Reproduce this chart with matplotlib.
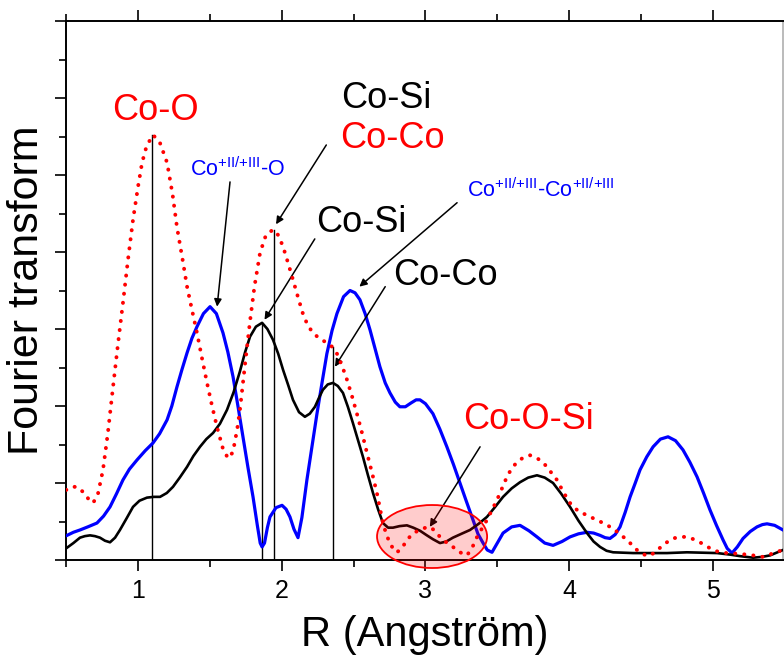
import matplotlib
matplotlib.use('Agg')
import matplotlib.pyplot as plt
from matplotlib.patches import Ellipse
from matplotlib.ticker import MultipleLocator, NullFormatter

plt.rcParams['font.family'] = ['Liberation Sans', 'DejaVu Sans']
plt.rcParams['mathtext.default'] = 'regular'

# red dotted curve
r_red = [0.50, 0.54, 0.575, 0.62, 0.66, 0.687, 0.72, 0.756, 0.79, 0.826, 0.86, 0.895,
         0.93, 0.965, 1.00, 1.028, 1.06, 1.104, 1.15, 1.202, 1.24, 1.271, 1.31, 1.341,
         1.375, 1.410, 1.445, 1.480, 1.515, 1.549, 1.59, 1.626, 1.66, 1.69, 1.709, 1.745,
         1.779, 1.81, 1.849, 1.89, 1.939, 1.975, 2.009, 2.045, 2.078, 2.115, 2.147, 2.18,
         2.217, 2.26, 2.314, 2.35, 2.384, 2.42, 2.454, 2.49, 2.523, 2.56, 2.593, 2.63,
         2.662, 2.704, 2.73, 2.753, 2.78, 2.801, 2.835, 2.871, 2.915, 2.962, 3.00, 3.031,
         3.065, 3.101, 3.145, 3.191, 3.24, 3.289, 3.325, 3.359, 3.428, 3.498, 3.567, 3.60,
         3.637, 3.68, 3.728, 3.77, 3.818, 3.865, 3.915, 3.96, 4.006, 4.06, 4.124, 4.215,
         4.305, 4.35, 4.403, 4.44, 4.472, 4.51, 4.549, 4.59, 4.633, 4.68, 4.723, 4.77,
         4.820, 4.865, 4.910, 4.955, 5.001, 5.05, 5.098, 5.189, 5.280, 5.349, 5.385, 5.419,
         5.488]
y_red = [0.91, 0.95, 0.95, 0.88, 0.78, 0.74, 0.85, 1.17, 1.65, 2.25, 2.80, 3.34,
         3.90, 4.42, 4.85, 5.16, 5.38, 5.52, 5.43, 5.16, 4.75, 4.32, 3.90, 3.55,
         3.25, 2.95, 2.62, 2.30, 2.00, 1.73, 1.45, 1.32, 1.40, 1.70, 1.95, 2.55,
         3.10, 3.55, 3.99, 4.22, 4.29, 4.22, 4.07, 3.85, 3.64, 3.40, 3.20, 3.05,
         2.95, 2.88, 2.82, 2.77, 2.68, 2.52, 2.34, 2.12, 1.90, 1.64, 1.39, 1.12,
         0.87, 0.48, 0.32, 0.22, 0.13, 0.10, 0.15, 0.26, 0.35, 0.39, 0.42, 0.43,
         0.38, 0.30, 0.23, 0.17, 0.10, 0.06, 0.16, 0.30, 0.52, 0.78, 1.08, 1.19,
         1.27, 1.33, 1.36, 1.33, 1.27, 1.16, 1.04, 0.88, 0.74, 0.64, 0.58, 0.50,
         0.41, 0.34, 0.26, 0.19, 0.13, 0.08, 0.05, 0.09, 0.16, 0.23, 0.28, 0.30,
         0.30, 0.27, 0.23, 0.18, 0.13, 0.10, 0.09, 0.08, 0.06, 0.04, 0.06, 0.09,
         0.13]

# blue curve
r_blue = [0.506, 0.55, 0.596, 0.65, 0.714, 0.76, 0.805, 0.85, 0.895, 0.94, 0.993, 1.05,
          1.104, 1.15, 1.202, 1.235, 1.271, 1.305, 1.341, 1.375, 1.410, 1.455, 1.501, 1.545,
          1.591, 1.625, 1.661, 1.695, 1.730, 1.765, 1.800, 1.83, 1.85, 1.863, 1.88, 1.90,
          1.918, 1.96, 2.002, 2.03, 2.057, 2.085, 2.113, 2.14, 2.175, 2.21, 2.245, 2.28,
          2.314, 2.35, 2.384, 2.43, 2.475, 2.51, 2.544, 2.58, 2.614, 2.65, 2.683, 2.72,
          2.753, 2.79, 2.822, 2.86, 2.90, 2.935, 2.962, 3.00, 3.052, 3.10, 3.149, 3.195,
          3.240, 3.285, 3.331, 3.365, 3.401, 3.43, 3.463, 3.50, 3.540, 3.60, 3.658, 3.72,
          3.776, 3.83, 3.888, 3.95, 4.006, 4.065, 4.124, 4.17, 4.215, 4.25, 4.284, 4.32,
          4.354, 4.39, 4.424, 4.46, 4.493, 4.54, 4.584, 4.635, 4.688, 4.74, 4.792, 4.84,
          4.890, 4.935, 4.980, 5.025, 5.071, 5.10, 5.133, 5.17, 5.210, 5.26, 5.307, 5.345,
          5.377, 5.43, 5.488]
y_blue = [0.32, 0.36, 0.39, 0.43, 0.48, 0.57, 0.69, 0.86, 1.04, 1.18, 1.30, 1.42,
          1.52, 1.64, 1.82, 2.00, 2.25, 2.47, 2.69, 2.88, 3.03, 3.20, 3.29, 3.20,
          2.95, 2.70, 2.38, 2.00, 1.60, 1.20, 0.82, 0.45, 0.22, 0.17, 0.22, 0.42,
          0.56, 0.68, 0.71, 0.66, 0.56, 0.40, 0.29, 0.55, 1.04, 1.47, 1.90, 2.30,
          2.68, 2.98, 3.20, 3.42, 3.50, 3.47, 3.38, 3.20, 2.99, 2.74, 2.51, 2.30,
          2.17, 2.05, 1.99, 1.99, 2.04, 2.08, 2.08, 2.03, 1.90, 1.70, 1.47, 1.24,
          1.00, 0.76, 0.52, 0.34, 0.22, 0.13, 0.10, 0.22, 0.35, 0.43, 0.45, 0.38,
          0.30, 0.22, 0.19, 0.24, 0.30, 0.34, 0.36, 0.35, 0.32, 0.29, 0.28, 0.33,
          0.43, 0.62, 0.82, 1.00, 1.17, 1.34, 1.47, 1.57, 1.60, 1.55, 1.43, 1.27,
          1.08, 0.87, 0.65, 0.45, 0.26, 0.15, 0.09, 0.17, 0.28, 0.37, 0.43, 0.46,
          0.47, 0.45, 0.39]

# black curve
r_black = [0.506, 0.55, 0.596, 0.63, 0.666, 0.70, 0.735, 0.77, 0.805, 0.84, 0.874, 0.92,
           0.965, 1.01, 1.062, 1.11, 1.153, 1.20, 1.243, 1.29, 1.341, 1.385, 1.431, 1.475,
           1.522, 1.57, 1.619, 1.665, 1.709, 1.745, 1.779, 1.82, 1.863, 1.90, 1.939, 1.975,
           2.009, 2.045, 2.078, 2.12, 2.161, 2.195, 2.231, 2.26, 2.286, 2.32, 2.356, 2.39,
           2.426, 2.46, 2.495, 2.53, 2.565, 2.60, 2.635, 2.67, 2.704, 2.74, 2.774, 2.82,
           2.871, 2.915, 2.962, 3.01, 3.052, 3.101, 3.145, 3.191, 3.25, 3.310, 3.37, 3.428,
           3.485, 3.540, 3.60, 3.658, 3.715, 3.776, 3.83, 3.888, 3.945, 4.006, 4.065, 4.124,
           4.17, 4.215, 4.26, 4.306, 4.445, 4.681, 4.820, 5.029, 5.12, 5.189, 5.280, 5.34,
           5.398, 5.488]
y_black = [0.16, 0.22, 0.29, 0.31, 0.32, 0.31, 0.29, 0.25, 0.23, 0.29, 0.39, 0.54,
           0.69, 0.77, 0.81, 0.82, 0.82, 0.87, 0.95, 1.07, 1.21, 1.35, 1.47, 1.57,
           1.65, 1.77, 1.95, 2.18, 2.45, 2.70, 2.90, 3.03, 3.08, 3.00, 2.86, 2.68,
           2.47, 2.27, 2.08, 1.92, 1.86, 1.90, 1.99, 2.11, 2.21, 2.28, 2.30, 2.26,
           2.17, 1.99, 1.78, 1.56, 1.34, 1.10, 0.87, 0.66, 0.48, 0.42, 0.42, 0.44,
           0.45, 0.42, 0.38, 0.32, 0.27, 0.22, 0.24, 0.29, 0.34, 0.39, 0.47, 0.56,
           0.69, 0.82, 0.93, 1.01, 1.07, 1.10, 1.07, 1.00, 0.86, 0.69, 0.51, 0.35,
           0.24, 0.17, 0.12, 0.10, 0.09, 0.09, 0.10, 0.09, 0.07, 0.05, 0.03, 0.04,
           0.06, 0.13]

# vertical marker lines (position, height)
vline_r = [1.10, 1.863, 1.945, 2.36]
vline_top = [5.52, 3.08, 4.29, 2.77]

# labels: text, x, y, colour
labels = [
    ('Co-O', 1.12, 5.84, 'red'),
    ('Co-Si', 2.73, 6.00, 'black'),
    ('Co-Co', 2.77, 5.48, 'red'),
    ('Co-Si', 2.55, 4.38, 'black'),
    ('Co-Co', 3.14, 3.69, 'black'),
    ('Co-O-Si', 3.72, 1.83, 'red'),
]
blue_labels = [
    (r'Co$^{+II/{+}III}$-O', 1.36, 4.99),
    (r'Co$^{+II/{+}III}$-Co$^{+II/{+}III}$', 3.29, 4.71),
]
# arrows: (tail r, tail y, head r, head y)
arrows = [
    (1.64, 4.91, 1.55, 3.29),
    (2.31, 5.39, 1.96, 4.36),
    (2.23, 4.17, 1.88, 3.12),
    (3.22, 4.64, 2.54, 3.55),
    (2.72, 3.55, 2.37, 2.51),
    (3.38, 1.47, 3.03, 0.43),
]

fig = plt.figure(figsize=(7.84, 6.59), dpi=100)
ax = fig.add_axes([66.2 / 784, 99 / 659, (783 - 66.2) / 784, 539 / 659])

ax.plot(r_blue, y_blue, color='#0000ff', lw=2.3, zorder=3)
ax.plot(r_black, y_black, color='black', lw=1.9, zorder=4)
ax.plot(r_red, y_red, color='#ff0000', lw=2.8, linestyle=(0, (0.05, 2.3)),
        dash_capstyle='round', zorder=5)

for r, top in zip(vline_r, vline_top):
    ax.plot([r, r], [0, top], color='black', lw=1.0, zorder=2)

for t, x, y, c in labels:
    ax.text(x, y, t, color=c, fontsize=26, ha='center', va='center')
for t, x, y in blue_labels:
    ax.text(x, y, t, color='#0000ff', fontsize=15.5, ha='left', va='baseline')

for x0, y0, x1, y1 in arrows:
    ax.annotate('', xy=(x1, y1), xytext=(x0, y0),
                arrowprops=dict(arrowstyle='-|>', color='black', lw=1.1,
                                mutation_scale=11, shrinkA=0, shrinkB=0))

ell = Ellipse((3.046, 0.305), 0.766, 0.818, facecolor=(1, 0, 0, 0.2),
              edgecolor='#ff0000', lw=1.3, zorder=6, clip_on=False)
ax.add_patch(ell)

ax.set_xlim(0.5, 5.488)
ax.set_ylim(0, 7)
ax.xaxis.set_major_locator(MultipleLocator(1))
ax.xaxis.set_minor_locator(MultipleLocator(0.5))
ax.yaxis.set_major_locator(MultipleLocator(1))
ax.yaxis.set_minor_locator(MultipleLocator(0.5))
ax.yaxis.set_major_formatter(NullFormatter())
ax.tick_params(which='both', direction='out', top=True, right=False, width=1.2)
ax.tick_params(which='major', length=8)
ax.tick_params(which='minor', length=5)
ax.tick_params(axis='x', labelsize=18, pad=6)
for sp in ax.spines.values():
    sp.set_linewidth(1.4)
ax.spines['right'].set_color('#bbbbbb')

ax.set_xlabel('R (Angström)', fontsize=30, labelpad=8)
ax.set_ylabel('Fourier transform', fontsize=31, labelpad=2)

fig.savefig('out.png', dpi=100)
